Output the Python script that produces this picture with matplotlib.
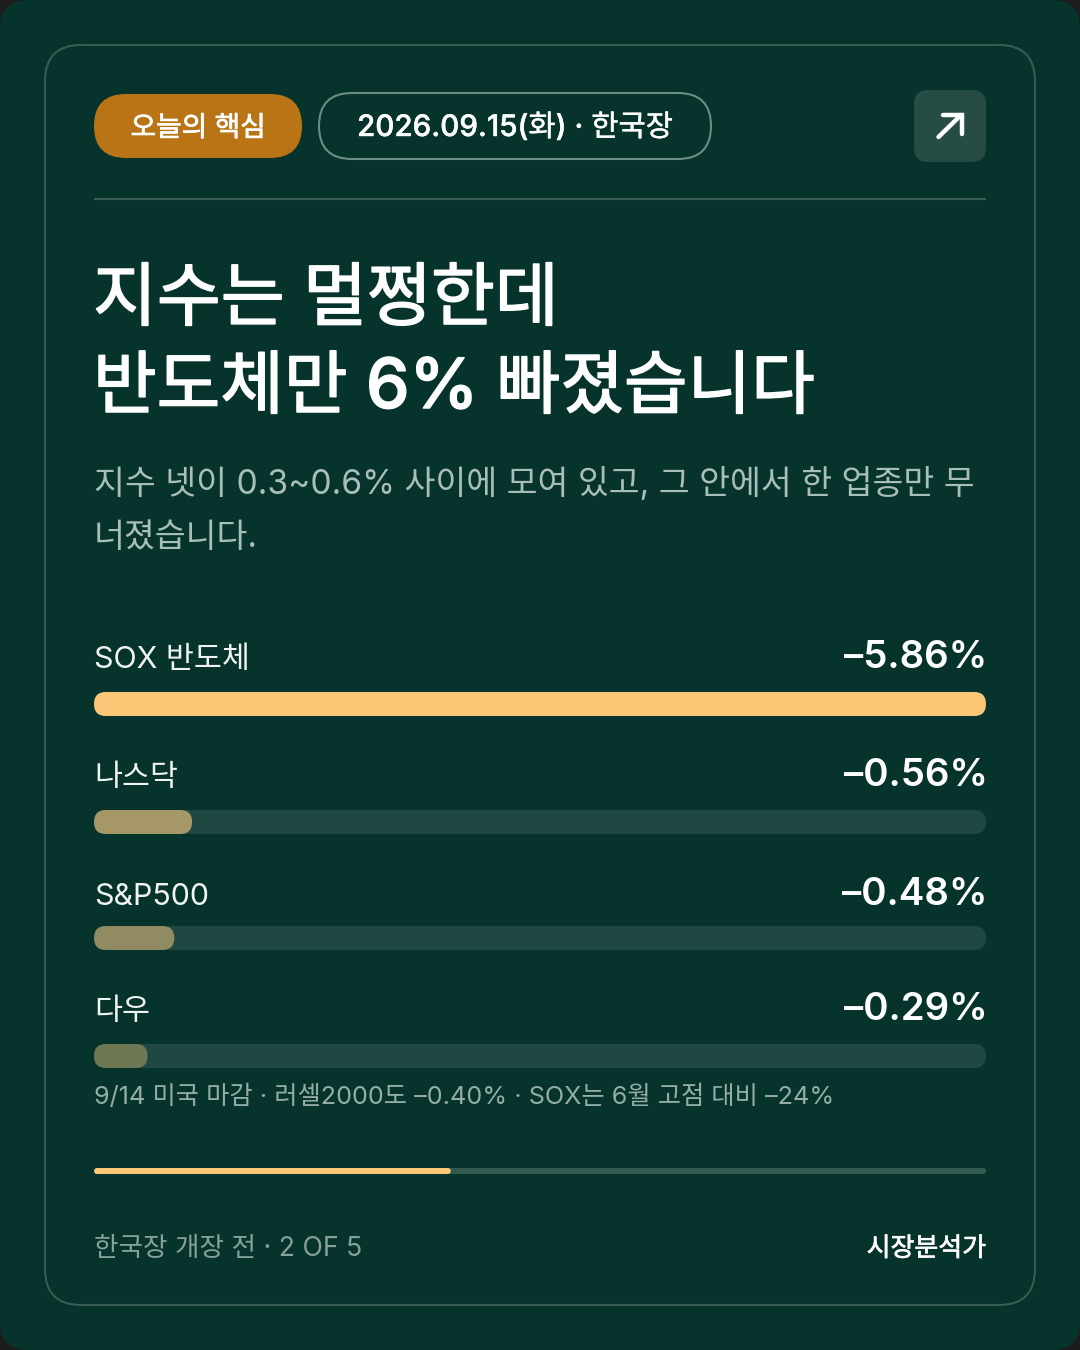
import matplotlib
matplotlib.use("Agg")
import matplotlib.pyplot as plt
import matplotlib.patheffects as pe
from matplotlib.patches import FancyBboxPatch

plt.rcParams['font.family'] = ['Inter', 'Noto Sans CJK KR', 'DejaVu Sans']

names = ["SOX 반도체", "나스닥", "S&P500", "다우"]
labels = ["–5.86%", "–0.56%", "–0.48%", "–0.29%"]
fill_pct = [100, 11, 9, 6]
fill_colors = ["#FBC676", "#A69866", "#908B60", "#6F7855"]
text_base = [668, 786, 905, 1020]
bar_y = [692, 810, 926, 1044]
progress_pct = 40

BG = "#06332C"
WHITE = "#FFFFFF"
X0, X1 = 94, 986


def rrect(ax, x0, y0, x1, y1, r, fc="none", ec="none", lw=0, z=2):
    p = FancyBboxPatch((x0, y0), x1 - x0, y1 - y0,
                       boxstyle=f"round,pad=0,rounding_size={r}",
                       fc=fc, ec=ec, lw=lw, zorder=z)
    ax.add_patch(p)
    return p


def thicken(width):
    return [pe.withStroke(linewidth=width, foreground=WHITE)]


fig = plt.figure(figsize=(10.8, 13.5), dpi=100, facecolor="#1C1C1C")
ax = fig.add_axes([0, 0, 1, 1])
ax.set_xlim(0, 1080)
ax.set_ylim(1350, 0)
ax.axis("off")

# card and frame
rrect(ax, 0, 0, 1080, 1350, 28, fc=BG, z=0)
rrect(ax, 45, 45, 1035, 1305, 36, ec="#375D53", lw=1.5, z=1)

# header
rrect(ax, 94, 94, 302, 158, 32, fc="#B97515")
ax.text(198, 136, "오늘의 핵심", color=WHITE, fontsize=20, fontweight="medium", ha="center", va="baseline", zorder=3, path_effects=thicken(0.5))
rrect(ax, 319, 93, 711, 159, 33, ec="#6C8C84", lw=1.5)
ax.text(515, 136, "2026.09.15(화) · 한국장", color=WHITE, fontsize=21.3, fontweight="medium", ha="center", va="baseline", zorder=3, path_effects=thicken(0.3))
rrect(ax, 914, 90, 986, 162, 14, fc="#274C46")
ax.plot([938.5, 961], [137, 115], color=WHITE, lw=3.2, solid_capstyle="round", zorder=3)
ax.plot([943, 962, 962], [115, 115, 134], color=WHITE, lw=3.2, solid_capstyle="round", solid_joinstyle="miter", zorder=3)
ax.plot([X0, X1], [199, 199], color="#375D53", lw=1.5, zorder=1, solid_capstyle="butt")

# title
ax.text(X0 - 1, 320, "지수는 멀쩡한데", color=WHITE, fontsize=50, fontweight="medium", ha="left", va="baseline", path_effects=thicken(1.1))
ax.text(X0 - 1, 408, "반도체만 6% 빠졌습니다", color=WHITE, fontsize=49.8, fontweight="medium", ha="left", va="baseline", path_effects=thicken(1.1))
ax.text(X0, 494, "지수 넷이 0.3~0.6% 사이에 모여 있고, 그 안에서 한 업종만 무", color="#A8BEB8", fontsize=24.2, ha="left", va="baseline")
ax.text(X0, 547, "너졌습니다.", color="#A8BEB8", fontsize=24.2, ha="left", va="baseline")

# bars
track_w = X1 - X0
for i in range(len(names)):
    ax.text(X0, text_base[i], names[i], color="#F0F4F2", fontsize=21.9, ha="left", va="baseline")
    ax.text(X1 + 1.5, text_base[i], labels[i], color=WHITE, fontsize=27.7, fontweight="semibold", ha="right", va="baseline")
    rrect(ax, X0, bar_y[i], X1, bar_y[i] + 24, 12, fc="#204843")
    rrect(ax, X0, bar_y[i], X0 + track_w * fill_pct[i] / 100, bar_y[i] + 24, 12, fc=fill_colors[i], z=3)

ax.text(X0, 1104, "9/14 미국 마감 · 러셀2000도 –0.40% · SOX는 6월 고점 대비 –24%", color="#94ADA7", fontsize=18.2, ha="left", va="baseline")

# progress
rrect(ax, X0, 1168, X1, 1174, 3, fc="#335A51")
rrect(ax, X0, 1168, X0 + track_w * progress_pct / 100, 1174, 3, fc="#FBC676", z=3)

# footer
ax.text(X0, 1256, "한국장 개장 전 · 2 OF 5", color="#86A19A", fontsize=19.2, ha="left", va="baseline")
ax.text(X1, 1256, "시장분석가", color=WHITE, fontsize=18.7, fontweight="medium", ha="right", va="baseline", path_effects=thicken(0.5))

fig.savefig("out.png", dpi=100, facecolor=fig.get_facecolor())
